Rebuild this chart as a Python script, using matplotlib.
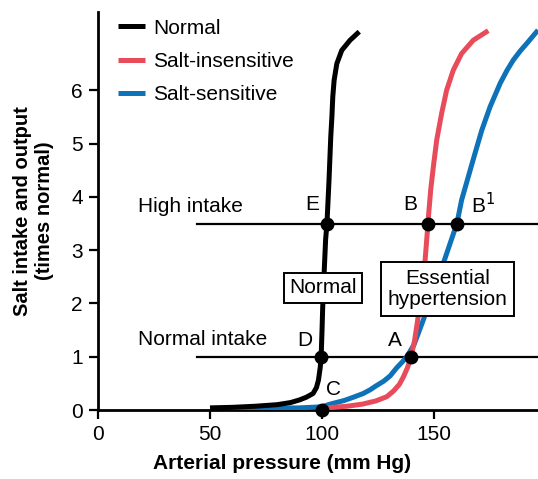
import matplotlib.pyplot as plt

plt.rcParams['font.family'] = ['Liberation Sans', 'DejaVu Sans']

# Pressure (mm Hg) / output (times normal)
normal_x = [50, 60, 70, 80, 86, 90, 93, 96, 97.5, 98.4, 99.2, 99.6, 100.0, 100.3,
            100.7, 101.0, 101.6, 102.2, 103.1, 103.9, 104.4, 104.8, 105.4, 106.6,
            108.8, 112.5, 116.6]
normal_y = [0.04, 0.05, 0.07, 0.10, 0.14, 0.19, 0.24, 0.31, 0.42, 0.56, 0.8, 1.0,
            1.5, 1.93, 2.3, 2.63, 3.2, 3.5, 4.3, 5.13, 5.5, 5.88, 6.19, 6.5,
            6.75, 6.94, 7.10]

insens_x = [100, 105, 111, 118, 124, 128.9, 132, 134.5, 136.3, 138.2, 139.7, 141.3,
            142.7, 144.5, 146.0, 147.3, 147.5, 148.5, 149.7, 151.2, 153.4, 155.6,
            158.6, 162.3, 167.5, 174.2]
insens_y = [0.04, 0.05, 0.07, 0.11, 0.17, 0.25, 0.36, 0.48, 0.62, 0.8, 1.0, 1.3,
            1.69, 2.3, 2.81, 3.5, 3.63, 4.13, 4.57, 5.07, 5.57, 6.0,
            6.38, 6.69, 6.94, 7.12]

sens_x = [50, 70, 90, 100, 103.6, 110, 114, 118.4, 121.5, 124, 127.5, 130.4, 133.5,
          135.8, 137.8, 141, 145.2, 149.5, 154.6, 160.2, 162.3, 165.3, 168.3, 171.3,
          175, 179.5, 182.5, 185.4, 188.5, 191.4, 196.4]
sens_y = [0.02, 0.03, 0.04, 0.06, 0.11, 0.18, 0.24, 0.31, 0.38, 0.45, 0.54, 0.64,
          0.8, 0.9, 1.0, 1.22, 1.69, 2.2, 2.81, 3.5, 3.94, 4.38, 4.82, 5.25,
          5.69, 6.13, 6.37, 6.57, 6.74, 6.88, 7.13]

# equilibrium points E, B, B1, D, A, C
pt_x = [102.2, 147.3, 160.2, 99.6, 139.7, 100]
pt_y = [3.5, 3.5, 3.5, 1.0, 1.0, 0.0]

intake_levels = [1.0, 3.5]
intake_start = 44

fig = plt.figure(figsize=(5.38, 4.79), dpi=100)
ax = fig.add_axes([98 / 538, 69 / 479, 440 / 538, 398 / 479])

for lvl in intake_levels:
    ax.plot([intake_start, 200], [lvl, lvl], color='black', lw=1.6, zorder=2)

ax.plot(sens_x, sens_y, color='#0d72b8', lw=3.6, label='Salt-sensitive', zorder=3,
        solid_capstyle='butt', solid_joinstyle='round')
ax.plot(insens_x, insens_y, color='#e84c5a', lw=3.6, label='Salt-insensitive', zorder=4,
        solid_capstyle='butt', solid_joinstyle='round')
ax.plot(normal_x, normal_y, color='black', lw=3.6, label='Normal', zorder=5,
        solid_capstyle='butt', solid_joinstyle='round')
ax.plot(pt_x, pt_y, 'o', color='black', ms=9, zorder=6, clip_on=False)

fs = 15
ax.text(18, 3.82, 'High intake', fontsize=fs, va='center')
ax.text(18, 1.33, 'Normal intake', fontsize=fs, va='center')
ax.text(95.5, 3.85, 'E', fontsize=fs, ha='center', va='center')
ax.text(139.3, 3.85, 'B', fontsize=fs, ha='center', va='center')
ax.text(166.5, 3.85, 'B$^1$', fontsize=fs, ha='left', va='center')
ax.text(92.4, 1.31, 'D', fontsize=fs, ha='center', va='center')
ax.text(132.6, 1.31, 'A', fontsize=fs, ha='center', va='center')
ax.text(105, 0.38, 'C', fontsize=fs, ha='center', va='center')

ax.text(100.4, 2.29, 'Normal', fontsize=fs, ha='center', va='center', zorder=7,
        bbox=dict(boxstyle='square,pad=0.25', fc='white', ec='black', lw=1.4))
ax.text(156, 2.27, 'Essential\nhypertension', fontsize=fs, ha='center', va='center',
        zorder=7, linespacing=1.1,
        bbox=dict(boxstyle='square,pad=0.33', fc='white', ec='black', lw=1.4))

handles, labels = ax.get_legend_handles_labels()
order = [2, 1, 0]
ax.legend([handles[i] for i in order], [labels[i] for i in order], loc='upper left',
          bbox_to_anchor=(0.045, 0.983), frameon=False, fontsize=fs, handlelength=1.3,
          handletextpad=0.4, labelspacing=0.68, borderpad=0, borderaxespad=0)

ax.set_xlim(0, 196.4)
ax.set_ylim(0, 7.47)
ax.set_xticks([0, 50, 100, 150])
ax.set_yticks([0, 1, 2, 3, 4, 5, 6])
ax.tick_params(labelsize=fs, width=1.6, length=6.5, direction='out', pad=4.5)
for s in ['top', 'right']:
    ax.spines[s].set_visible(False)
for s in ['left', 'bottom']:
    ax.spines[s].set_linewidth(2.0)

ax.set_xlabel('Arterial pressure (mm Hg)', fontsize=15, fontweight='bold', labelpad=10)
ax.xaxis.set_label_coords(0.419, -0.11)
ax.set_ylabel('Salt intake and output\n(times normal)', fontsize=14.5, fontweight='bold',
              labelpad=12, linespacing=1.2)

fig.savefig('out.png', dpi=100)
